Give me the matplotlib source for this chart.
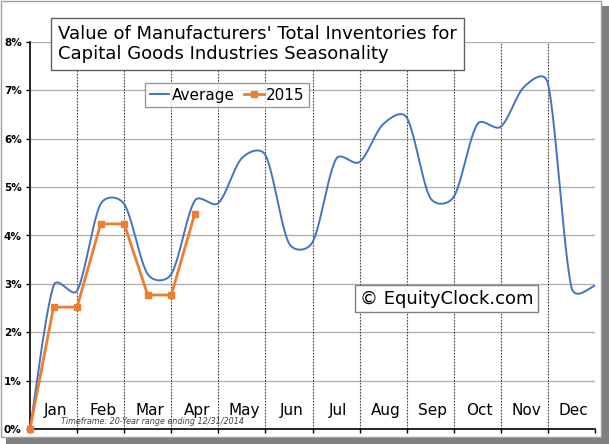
import numpy as np
import matplotlib.pyplot as plt
from matplotlib.patches import Rectangle

# semi-monthly positions (0 = start of Jan, 24 = end of Dec)
avg_values = [0.00, 2.96, 2.86, 4.65, 4.65, 3.20, 3.20, 4.72, 4.67, 5.60, 5.66,
              3.84, 3.86, 5.58, 5.52, 6.30, 6.44, 4.78, 4.80, 6.30, 6.25,
              7.08, 7.14, 2.93, 2.96]
y2015_values = [0.00, 2.52, 2.52, 4.24, 4.24, 2.77, 2.77, 4.45]
months = ['Jan', 'Feb', 'Mar', 'Apr', 'May', 'Jun', 'Jul', 'Aug', 'Sep', 'Oct', 'Nov', 'Dec']
y_ticks = [0, 1, 2, 3, 4, 5, 6, 7, 8]

BLUE = '#4472C4'
ORANGE = '#ED7D31'


def smooth(xs, ys, yscale=2.06, n=24):
    # excel-like smoothed line: bezier segments, tangents shrunk on short chords
    p = np.column_stack([xs, np.asarray(ys, float) * yscale]).astype(float)
    p = np.vstack([p[0], p, p[-1]])
    out = []
    t = np.linspace(0, 1, n, endpoint=False)[:, None]
    for i in range(1, len(p) - 2):
        p0, p1, p2, p3 = p[i - 1], p[i], p[i + 1], p[i + 2]
        d01 = np.hypot(*(p1 - p0))
        d12 = np.hypot(*(p2 - p1))
        d23 = np.hypot(*(p3 - p2))
        k1 = min(1.0, np.sqrt(2 * d12 / max(d01 + d12, 1e-9)))
        k2 = min(1.0, np.sqrt(2 * d12 / max(d12 + d23, 1e-9)))
        c1 = p1 + (p2 - p0) * k1 / 6
        c2 = p2 - (p3 - p1) * k2 / 6
        seg = ((1 - t) ** 3) * p1 + 3 * ((1 - t) ** 2) * t * c1 + 3 * (1 - t) * t ** 2 * c2 + t ** 3 * p2
        out.append(seg)
    out.append(p[-2][None, :])
    out = np.vstack(out)
    return out[:, 0], out[:, 1] / yscale


fig = plt.figure(figsize=(6.09, 4.44), dpi=100)
W, H = 609, 444

# frame + drop shadow
fig.patches.append(Rectangle((6 / W, 0), 603 / W, 438 / H, transform=fig.transFigure,
                             facecolor='#7f7f7f', edgecolor='none', zorder=-2))
fig.patches.append(Rectangle((1 / W, 7 / H), 600 / W, 436 / H, transform=fig.transFigure,
                             facecolor='white', edgecolor='#a0a0a0', lw=1, zorder=-1))

ax = fig.add_axes([30 / W, 1 - 429 / H, 565 / W, 387 / H])
ax.set_facecolor('none')
ax.set_zorder(2)

x_avg = np.arange(len(avg_values))
sx, sy = smooth(x_avg, avg_values)
ax.plot(sx, sy, color=BLUE, lw=1.4, label='Average', zorder=3)
ax.plot(np.arange(len(y2015_values)), y2015_values, color=ORANGE, lw=2,
        marker='s', markersize=5, label='2015', zorder=4, clip_on=False)

ax.set_xlim(0, 24)
ax.set_ylim(0, 8)
ax.set_yticks(y_ticks)
ax.set_yticklabels([f'{v}%' for v in y_ticks], fontsize=7.5, fontweight='bold')
ax.set_xticks(range(0, 25, 2))
ax.set_xticklabels([])
ax.tick_params(axis='x', direction='out', length=3, width=1)
ax.tick_params(axis='y', direction='out', length=3, width=1, pad=3)

for y in y_ticks[1:]:
    ax.axhline(y, color='#b0b0b0', lw=1, zorder=1)
for x in range(2, 24, 2):
    ax.axvline(x, color='#444444', lw=0.8, ls=(0, (1.5, 1.2)), zorder=1)

for s in ['top', 'right']:
    ax.spines[s].set_visible(False)
ax.spines['left'].set_linewidth(1.2)
ax.spines['bottom'].set_linewidth(1.2)

for i, m in enumerate(months):
    ax.text(2 * i + 1.1, 0.38, m, ha='center', va='center', fontsize=11, zorder=5)

ax.text(5.2, 0.16, 'Timeframe: 20-Year range ending 12/31/2014', ha='center', va='center',
        fontsize=5.8, style='italic', color='#404040', zorder=5)

leg = ax.legend(loc='upper left', bbox_to_anchor=((145 - 30) / 565, (429 - 83) / 387),
                ncol=2, fontsize=11, frameon=True, fancybox=False, handlelength=1.3,
                handletextpad=0.15, columnspacing=0.6, borderpad=0.3, borderaxespad=0)
leg.get_frame().set_edgecolor('#808080')
leg.get_frame().set_linewidth(1)

ax.text(17.7, 2.69, '\u00a9 EquityClock.com', fontsize=13, ha='center', va='center', zorder=5,
        bbox=dict(boxstyle='square,pad=0.25', facecolor='white', edgecolor='#808080', lw=1))

fig.text(58 / W, 1 - 44 / H, "Value of Manufacturers' Total Inventories for\nCapital Goods Industries Seasonality",
         fontsize=13, ha='left', va='center', linespacing=1.1, zorder=10,
         bbox=dict(boxstyle='square,pad=0.4', facecolor='white', edgecolor='#606060', lw=1))

fig.savefig('out.png', dpi=100)
